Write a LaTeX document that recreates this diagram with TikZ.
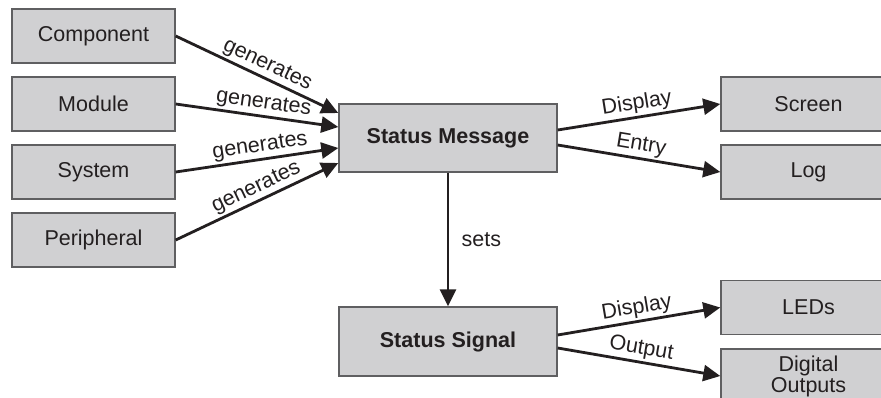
\documentclass[tikz,border=0pt]{standalone}
\usepackage{fontspec}
\setmainfont{Liberation Sans}
\usetikzlibrary{arrows.meta,calc}
\definecolor{boxfill}{RGB}{208,208,210}
\definecolor{boxline}{RGB}{95,95,97}
\definecolor{ink}{RGB}{35,31,32}
\tikzset{
  box/.style={draw=boxline, line width=1.4pt, fill=boxfill, inner sep=0pt,
    text=ink, font=\fontsize{21.5}{24}\selectfont, align=center},
  smallbox/.style={box, minimum width=163pt, minimum height=54pt},
  rbox/.style={box, minimum width=175pt, minimum height=54pt},
  bigbox/.style={box, minimum width=218pt, minimum height=68pt, font=\fontsize{21.5}{24}\selectfont\bfseries},
  conn/.style={draw=ink, line width=2.8pt, -{Triangle[length=17pt,width=16pt]}},
  lbl/.style={sloped, above, inner sep=2pt, text=ink, font=\fontsize{21.5}{24}\selectfont}
}
\begin{document}
\begin{tikzpicture}[x=1pt,y=-1pt]
\useasboundingbox (0,0) rectangle (881,398);
\clip (0,0) rectangle (881,398);
\fill[white] (0,0) rectangle (881,398);
% left boxes
\node[smallbox] (comp) at (93.5,36) {Component};
\node[smallbox] (mod)  at (93.5,104) {Module};
\node[smallbox] (sys)  at (93.5,172) {System};
\node[smallbox] (per)  at (93.5,240) {Peripheral};
% central
\node[bigbox] (msg) at (448,138) {Status Message};
\node[bigbox, minimum height=69pt] (sig) at (448,341.5) {Status Signal};
% right
\node[rbox] (scr) at (808.5,104) {Screen};
\node[rbox] (log) at (808.5,172) {Log};
\node[rbox] (led) at (808.5,307.5) {LEDs};
\node[rbox] (dig) at (808.5,376) {Digital\\[-3pt]Outputs};
% connectors
\draw[conn] (comp.east) -- node[lbl, pos=0.53] {generates} ([yshift=25pt]msg.west);
\draw[conn] (mod.east)  -- node[lbl, pos=0.53] {generates} ([yshift=11pt]msg.west);
\draw[conn] (sys.east)  -- node[lbl, pos=0.53] {generates} ([yshift=-10pt]msg.west);
\draw[conn] (per.east)  -- node[lbl, pos=0.53] {generates} ([yshift=-25pt]msg.west);
\draw[conn] ([yshift=8pt]msg.east) -- node[lbl] {Display} (scr.west);
\draw[conn] ([yshift=-7pt]msg.east) -- node[lbl] {Entry} (log.west);
\draw[conn] (msg.south) -- node[right, xshift=9pt, text=ink, font=\fontsize{21.5}{24}\selectfont] {sets} (sig.north);
\draw[conn] ([yshift=6.5pt]sig.east) -- node[lbl] {Display} (led.west);
\draw[conn] ([yshift=-6.5pt]sig.east) -- node[lbl] {Output} (dig.west);
\end{tikzpicture}
\end{document}
